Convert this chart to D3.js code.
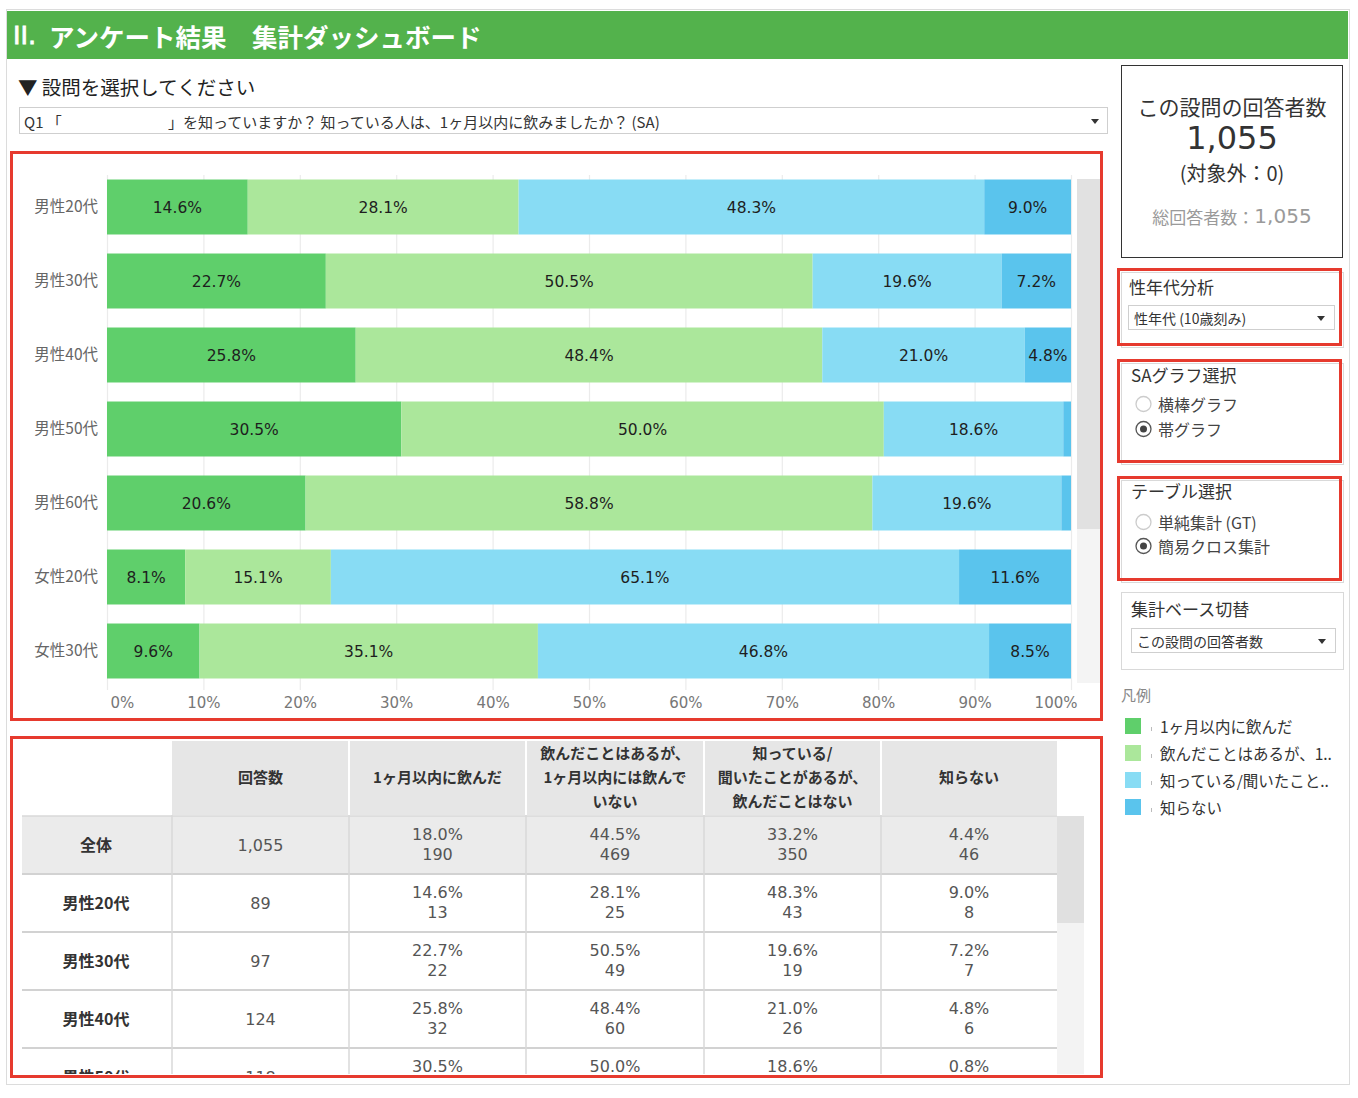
<!DOCTYPE html>
<html><head><meta charset="utf-8">
<script src="https://cdn.jsdelivr.net/npm/d3@7"></script>
<style>
html,body{margin:0;padding:0;background:#fff;}
svg{display:block;}
text{font-family:"Noto Sans CJK JP","DejaVu Sans",sans-serif;}
.num{font-family:"DejaVu Sans","Noto Sans CJK JP",sans-serif;}
</style></head>
<body>
<script>
// ---------- data ----------
const categories = ["男性20代","男性30代","男性40代","男性50代","男性60代","女性20代","女性30代"];
const seriesNames = ["1ヶ月以内に飲んだ","飲んだことはあるが、1ヶ月以内には飲んでいない","知っている/聞いたことがあるが、飲んだことはない","知らない"];
const drankRecent   = [14.6, 22.7, 25.8, 30.5, 20.6,  8.1,  9.6];
const drankBefore   = [28.1, 50.5, 48.4, 50.0, 58.8, 15.1, 35.1];
const knownNotDrank = [48.3, 19.6, 21.0, 18.6, 19.6, 65.1, 46.8];
const unknown       = [ 9.0,  7.2,  4.8,  0.8,  1.0, 11.6,  8.5];
const xTicks = [0,10,20,30,40,50,60,70,80,90,100];
const legendLabels = ["1ヶ月以内に飲んだ","飲んだことはあるが、1..","知っている/聞いたこと..","知らない"];

const tableRows = ["全体","男性20代","男性30代","男性40代","男性50代"];
const tableN    = ["1,055","89","97","124","118"];
const tableHeaders = [["回答数"],["1ヶ月以内に飲んだ"],["飲んだことはあるが、","1ヶ月以内には飲んで","いない"],["知っている/","聞いたことがあるが、","飲んだことはない"],["知らない"]];
const col1Pct = [18.0,14.6,22.7,25.8,30.5]; const col1N = [190,13,22,32,36];
const col2Pct = [44.5,28.1,50.5,48.4,50.0]; const col2N = [469,25,49,60,59];
const col3Pct = [33.2,48.3,19.6,21.0,18.6]; const col3N = [350,43,19,26,22];
const col4Pct = [ 4.4, 9.0, 7.2, 4.8, 0.8]; const col4N = [46,8,7,6,1];

const colors = ["#5fcf6b","#abe79b","#88dcf4","#5ac4ed"];
const RED = "#e63a2e";

// ---------- page ----------
const svg = d3.select("body").append("svg").attr("width",1358).attr("height",1098);
svg.append("rect").attr("x",6.5).attr("y",9.5).attr("width",1343).attr("height",1075).attr("fill","#fff").attr("stroke","#dcdcdc");
svg.append("rect").attr("x",7).attr("y",11).attr("width",1341).attr("height",48).attr("fill","#53b24c");
const title = svg.append("text").attr("y",35).attr("dominant-baseline","central").attr("fill","#fff").attr("font-weight","bold").attr("font-size",25.5);
title.append("tspan").attr("x",13).attr("font-family","DejaVu Sans").attr("font-weight","normal").attr("stroke","#fff").attr("stroke-width",0.8).text("II.");
title.append("tspan").attr("x",49).text("アンケート結果　集計ダッシュボード");

svg.append("text").attr("x",18).attr("y",86).attr("dominant-baseline","central").attr("font-size",19.5).attr("fill","#222").text("▼ 設問を選択してください");
svg.append("rect").attr("x",19.5).attr("y",107.5).attr("width",1088).attr("height",26).attr("fill","#fff").attr("stroke","#cfcfcf");
const q = svg.append("text").attr("y",121).attr("dominant-baseline","central").attr("font-size",15).attr("fill","#333");
q.append("tspan").attr("x",24).text("Q1 「");
q.append("tspan").attr("x",168).text("」を知っていますか？ 知っている人は、1ヶ月以内に飲みましたか？ (SA)");
svg.append("path").attr("d","M1091,119 L1099,119 L1095,124 Z").attr("fill","#333");

// ---------- chart ----------
const x = d3.scaleLinear().domain([0,100]).range([107,1071]);
const y = d3.scaleBand().domain(categories).range([170,688]).paddingInner(0.257).paddingOuter(0.1285);

const rows = categories.map((c,i)=>({cat:c, s0:drankRecent[i], s1:drankBefore[i], s2:knownNotDrank[i], s3:unknown[i]}));
const keys = ["s0","s1","s2","s3"];
const stacked = d3.stack().keys(keys).offset(d3.stackOffsetExpand)(rows);

const g = svg.append("g");
// gridlines
g.append("g").attr("transform","translate(0,690)")
 .call(d3.axisBottom(x).tickValues(xTicks).tickSize(-515).tickFormat(""))
 .call(s=>{s.select(".domain").remove(); s.selectAll("line").attr("stroke","#ebebeb").attr("stroke-width",1.2);});

// scrollbar
g.append("rect").attr("x",1077).attr("y",179).attr("width",23).attr("height",504).attr("fill","#f4f4f4");
g.append("rect").attr("x",1077).attr("y",179).attr("width",23).attr("height",350).attr("fill","#e1e1e1");

stacked.forEach((layer,li)=>{
  const lg = g.append("g");
  lg.selectAll("rect").data(layer).enter().append("rect")
    .attr("x",d=>x(d[0]*100)).attr("width",d=>x(d[1]*100)-x(d[0]*100))
    .attr("y",d=>y(d.data.cat)).attr("height",y.bandwidth())
    .attr("fill",colors[li]);
  lg.selectAll("text").data(layer.filter(d=>d.data[keys[li]]>=3)).enter().append("text")
    .attr("class","num")
    .attr("x",d=>(x(d[0]*100)+x(d[1]*100))/2).attr("y",d=>y(d.data.cat)+y.bandwidth()/2+1)
    .attr("text-anchor","middle").attr("dominant-baseline","central")
    .attr("font-size",15.5).attr("fill","#1e1e1e")
    .text(d=>d.data[keys[li]].toFixed(1)+"%");
});
// category labels
g.append("g").attr("transform","translate(98,0)")
 .call(d3.axisLeft(y).tickSize(0).tickPadding(0))
 .call(s=>{s.select(".domain").remove(); s.selectAll("text").attr("font-size",15.5).attr("fill","#666").attr("font-family",'"DejaVu Sans","Noto Sans CJK JP"').attr("dy","0.35em");});
// x axis labels
g.append("g").attr("transform","translate(0,694)")
 .call(d3.axisBottom(x).tickValues(xTicks).tickSize(0).tickFormat(d=>d+"%"))
 .call(s=>{s.select(".domain").remove();
   s.selectAll("text").attr("class","num").attr("font-size",15).attr("fill","#777").attr("dy","0.71em");
   s.selectAll(".tick").filter(d=>d===0).select("text").attr("text-anchor","start").attr("x",3);
   s.selectAll(".tick").filter(d=>d===100).select("text").attr("text-anchor","end").attr("x",6);
 });
svg.append("rect").attr("x",11.5).attr("y",152.5).attr("width",1090).attr("height",567).attr("fill","none").attr("stroke",RED).attr("stroke-width",3);

// ---------- table ----------
const colX = [22,172,349,526,704,881,1057];
const headTop = 741, headBot = 815, rowH = 58;
const tg = svg.append("g");
svg.append("clipPath").attr("id","tclip").append("rect").attr("x",12).attr("y",738).attr("width",1088).attr("height",336);
const tb = tg.append("g").attr("clip-path","url(#tclip)");
tb.append("rect").attr("x",colX[1]).attr("y",headTop).attr("width",colX[6]-colX[1]).attr("height",headBot-headTop).attr("fill","#e6e6e6");
tableHeaders.forEach((lines,ci)=>{
  const cx=(colX[ci+1]+colX[ci+2])/2;
  const t = tb.append("text").attr("text-anchor","middle").attr("font-weight","bold").attr("font-size",15).attr("fill","#333");
  const n=lines.length;
  lines.forEach((ln,k)=>t.append("tspan").attr("x",cx).attr("y",(headTop+headBot)/2-2+(k-(n-1)/2)*24).attr("dominant-baseline","central").text(ln));
  if(ci>0) tb.append("line").attr("x1",colX[ci+1]).attr("x2",colX[ci+1]).attr("y1",headTop).attr("y2",headBot).attr("stroke","#fff").attr("stroke-width",2);
});
// scrollbar
tb.append("rect").attr("x",1057).attr("y",816).attr("width",27).attr("height",260).attr("fill","#f3f3f3");
tb.append("rect").attr("x",1057).attr("y",816).attr("width",27).attr("height",107).attr("fill","#e0e0e0");
const pctCols=[col1Pct,col2Pct,col3Pct,col4Pct], nCols=[col1N,col2N,col3N,col4N];
tableRows.forEach((r,ri)=>{
  const top = headBot+1+ri*rowH, cy = top+rowH/2;
  tb.append("rect").attr("x",colX[0]).attr("y",top).attr("width",colX[6]-colX[0]).attr("height",rowH).attr("fill",ri===0?"#ebebeb":"#fff");
  tb.append("text").attr("x",(colX[0]+colX[1])/2-1).attr("y",cy-1).attr("text-anchor","middle").attr("dominant-baseline","central").attr("font-weight","bold").attr("font-size",16).attr("fill","#333").text(r);
  tb.append("text").attr("class","num").attr("x",(colX[1]+colX[2])/2).attr("y",cy).attr("text-anchor","middle").attr("dominant-baseline","central").attr("font-size",16).attr("fill","#555").text(tableN[ri]);
  pctCols.forEach((pc,ci)=>{
    const cx=(colX[ci+2]+colX[ci+3])/2;
    tb.append("text").attr("class","num").attr("x",cx).attr("y",cy-11).attr("text-anchor","middle").attr("dominant-baseline","central").attr("font-size",16).attr("fill","#555").text(pc[ri].toFixed(1)+"%");
    tb.append("text").attr("class","num").attr("x",cx).attr("y",cy+9).attr("text-anchor","middle").attr("dominant-baseline","central").attr("font-size",16).attr("fill","#555").text(nCols[ci][ri]);
  });
  if(ri>0) tb.append("line").attr("x1",colX[0]).attr("x2",colX[6]).attr("y1",top).attr("y2",top).attr("stroke","#d2d2d2").attr("stroke-width",2);
});
colX.slice(1,6).forEach(cx=>tb.append("line").attr("x1",cx).attr("x2",cx).attr("y1",headBot).attr("y2",1076).attr("stroke","#d8d8d8").attr("stroke-width",1.5));
tb.append("line").attr("x1",colX[0]).attr("x2",colX[6]).attr("y1",headBot+1).attr("y2",headBot+1).attr("stroke","#d8d8d8").attr("stroke-width",1.5);
svg.append("rect").attr("x",11.5).attr("y",737.5).attr("width",1090).attr("height",339).attr("fill","none").attr("stroke",RED).attr("stroke-width",3);

// ---------- right panel ----------
const rp = svg.append("g");
rp.append("rect").attr("x",1121.5).attr("y",65.5).attr("width",221).attr("height",192).attr("fill","#fff").attr("stroke","#333");
const cxp = 1232;
rp.append("text").attr("x",cxp).attr("y",106).attr("text-anchor","middle").attr("dominant-baseline","central").attr("font-size",21).attr("fill","#333").text("この設問の回答者数");
rp.append("text").attr("class","num").attr("x",cxp).attr("y",138).attr("text-anchor","middle").attr("dominant-baseline","central").attr("font-size",32).attr("fill","#333").text("1,055");
rp.append("text").attr("x",cxp).attr("y",172).attr("text-anchor","middle").attr("dominant-baseline","central").attr("font-size",20).attr("fill","#333").text("(対象外：0)");
const tot = rp.append("text").attr("x",cxp).attr("y",216).attr("text-anchor","middle").attr("dominant-baseline","central").attr("fill","#9a9a9a");
tot.append("tspan").attr("font-size",17).text("総回答者数：");
tot.append("tspan").attr("class","num").attr("font-size",20).text("1,055");

function panel(y0,h,red){
  rp.append("rect").attr("x",1121.5).attr("y",y0+2.5).attr("width",222).attr("height",h).attr("fill","#fff").attr("stroke","#d9d9d9");
  if(red) rp.append("rect").attr("x",1118.5).attr("y",y0-0.5).attr("width",222).attr("height",h).attr("fill","none").attr("stroke",RED).attr("stroke-width",3);
}
function dropdown(x0,y0,w,label){
  rp.append("rect").attr("x",x0+0.5).attr("y",y0+0.5).attr("width",w).attr("height",24).attr("fill","#fff").attr("stroke","#cfcfcf");
  rp.append("text").attr("x",x0+6).attr("y",y0+12.5).attr("dominant-baseline","central").attr("font-size",14).attr("fill","#333").text(label);
  rp.append("path").attr("d",`M${x0+w-17},${y0+11} L${x0+w-9},${y0+11} L${x0+w-13},${y0+16} Z`).attr("fill","#333");
}
function radio(cy,label,sel){
  rp.append("circle").attr("cx",1143.5).attr("cy",cy).attr("r",7.5).attr("fill","#fff").attr("stroke",sel?"#555":"#ccc").attr("stroke-width",1.3);
  if(sel) rp.append("circle").attr("cx",1143.5).attr("cy",cy).attr("r",3.5).attr("fill","#444");
  rp.append("text").attr("x",1158).attr("y",cy).attr("dominant-baseline","central").attr("font-size",16).attr("fill","#444").text(label);
}
panel(270,75,true);
rp.append("text").attr("x",1129).attr("y",286).attr("dominant-baseline","central").attr("font-size",17).attr("fill","#333").text("性年代分析");
dropdown(1128,305,206,"性年代 (10歳刻み)");

panel(361,101,true);
rp.append("text").attr("x",1131).attr("y",374).attr("dominant-baseline","central").attr("font-size",17).attr("fill","#333").text("SAグラフ選択");
radio(404,"横棒グラフ",false);
radio(429,"帯グラフ",true);

panel(478,102,true);
rp.append("text").attr("x",1131).attr("y",490).attr("dominant-baseline","central").attr("font-size",17).attr("fill","#333").text("テーブル選択");
radio(522,"単純集計 (GT)",false);
radio(546,"簡易クロス集計",true);

rp.append("rect").attr("x",1121.5).attr("y",592.5).attr("width",222).attr("height",77).attr("fill","#fff").attr("stroke","#d9d9d9");
rp.append("text").attr("x",1131).attr("y",608).attr("dominant-baseline","central").attr("font-size",17).attr("fill","#333").text("集計ベース切替");
dropdown(1131,628,204,"この設問の回答者数");

rp.append("text").attr("x",1121).attr("y",694).attr("dominant-baseline","central").attr("font-size",15).attr("fill","#888").text("凡例");
const leg = rp.selectAll("g.leg").data(legendLabels).enter().append("g").attr("class","leg")
  .attr("transform",(d,i)=>`translate(1125,${726+i*27})`);
leg.append("rect").attr("x",0).attr("y",-8).attr("width",16).attr("height",16).attr("fill",(d,i)=>colors[i]);
leg.append("line").attr("x1",26.5).attr("x2",26.5).attr("y1",1).attr("y2",5).attr("stroke","#bbb");
leg.append("text").attr("x",35).attr("y",0).attr("dominant-baseline","central").attr("font-size",15.5).attr("fill","#333").text(d=>d);
</script>
</body></html>
